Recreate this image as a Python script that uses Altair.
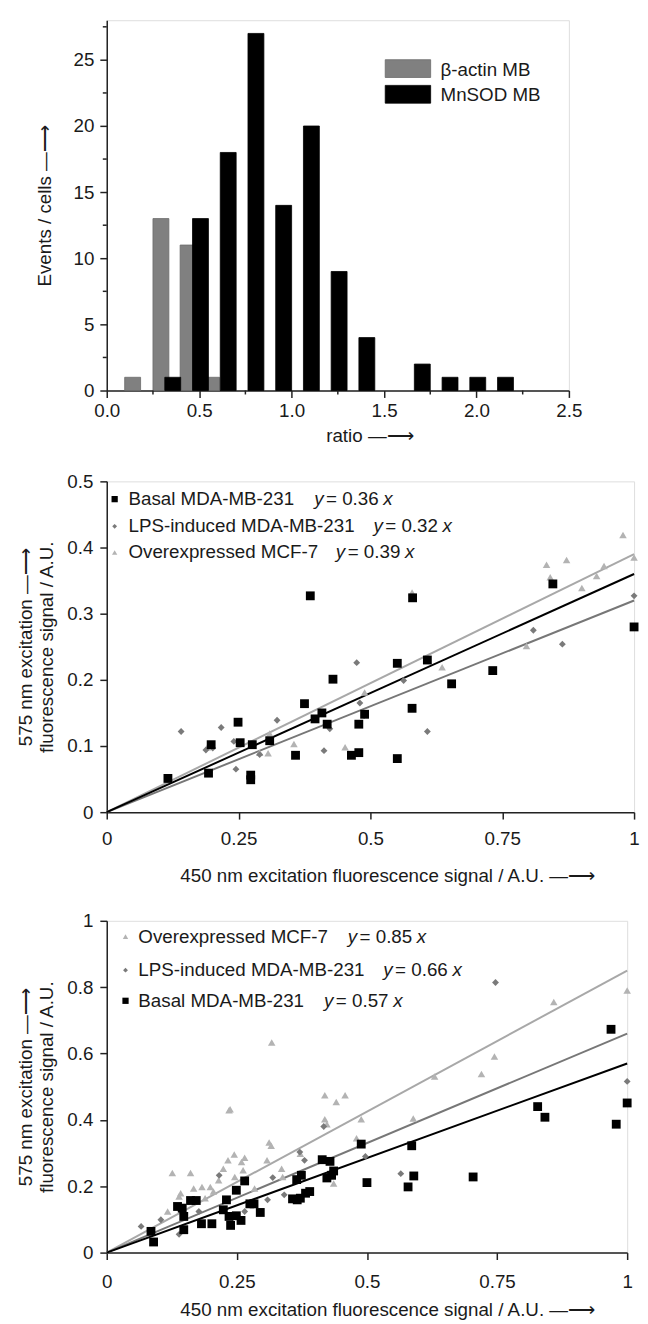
import altair as alt
import pandas as pd

FONT = "Liberation Sans"
ARROW = "\u2014\u27f6"
TXT = "#1a1a1a"

# ---------------- Panel 1: histogram data ----------------
hist_series = ["β-actin MB", "MnSOD MB"]
actin_ratio = [0.14, 0.293, 0.44, 0.567]
actin_count = [1, 13, 11, 1]
mnsod_ratio = [0.357, 0.507, 0.657, 0.807, 0.957, 1.107, 1.257, 1.407, 1.707, 1.857, 2.007, 2.157]
mnsod_count = [1, 13, 18, 27, 14, 20, 9, 4, 2, 1, 1, 1]
hist_x_ticks = [0, 0.5, 1.0, 1.5, 2.0, 2.5]
hist_x_minor = [0.25, 0.75, 1.25, 1.75, 2.25]
hist_y_ticks = [0, 5, 10, 15, 20, 25]
hist_y_minor = [2.5, 7.5, 12.5, 17.5, 22.5, 27.5]

# ---------------- Panel 2: scatter data ----------------
p2_names = ["Basal MDA-MB-231", "LPS-induced MDA-MB-231", "Overexpressed MCF-7"]
p2_slopes = [0.36, 0.32, 0.39]
p2_basal_x = [0.116, 0.193, 0.198, 0.249, 0.253, 0.273, 0.273, 0.276, 0.309, 0.358, 0.375, 0.386, 0.395,
              0.408, 0.418, 0.429, 0.464, 0.478, 0.478, 0.489, 0.551, 0.551, 0.579, 0.580, 0.608, 0.654,
              0.732, 0.846, 1.0]
p2_basal_y = [0.051, 0.059, 0.102, 0.136, 0.105, 0.056, 0.049, 0.102, 0.108, 0.086, 0.164, 0.327, 0.141,
              0.150, 0.133, 0.201, 0.086, 0.090, 0.133, 0.148, 0.081, 0.225, 0.157, 0.324, 0.230, 0.194,
              0.214, 0.345, 0.280]
p2_lps_x = [0.141, 0.188, 0.201, 0.217, 0.241, 0.245, 0.290, 0.323, 0.412, 0.423, 0.474, 0.480, 0.488,
            0.563, 0.608, 0.809, 0.864, 1.0]
p2_lps_y = [0.122, 0.094, 0.097, 0.128, 0.107, 0.065, 0.087, 0.139, 0.093, 0.126, 0.226, 0.165, 0.146,
            0.199, 0.122, 0.275, 0.254, 0.327]
p2_mcf_x = [0.191, 0.290, 0.306, 0.309, 0.355, 0.452, 0.489, 0.579, 0.636, 0.796, 0.834, 0.841, 0.872,
            0.901, 0.929, 0.943, 0.979, 1.0]
p2_mcf_y = [0.098, 0.090, 0.089, 0.119, 0.103, 0.098, 0.181, 0.332, 0.219, 0.251, 0.374, 0.355, 0.381,
            0.339, 0.357, 0.372, 0.419, 0.385]
p2_x_ticks = [0, 0.25, 0.5, 0.75, 1]
p2_y_ticks = [0, 0.1, 0.2, 0.3, 0.4, 0.5]

# ---------------- Panel 3: scatter data ----------------
p3_names = ["Overexpressed MCF-7", "LPS-induced MDA-MB-231", "Basal MDA-MB-231"]
p3_slopes = [0.85, 0.66, 0.57]
p3_basal_x = [0.090, 0.085, 0.136, 0.145, 0.148, 0.148, 0.161, 0.172, 0.182, 0.202, 0.224, 0.230, 0.235,
              0.238, 0.249, 0.249, 0.258, 0.265, 0.275, 0.283, 0.295, 0.357, 0.366, 0.372, 0.365, 0.374,
              0.382, 0.390, 0.414, 0.423, 0.429, 0.432, 0.436, 0.489, 0.500, 0.579, 0.586, 0.590, 0.704,
              0.828, 0.842, 0.969, 0.979, 1.0]
p3_basal_y = [0.032, 0.064, 0.139, 0.134, 0.109, 0.069, 0.157, 0.157, 0.087, 0.087, 0.129, 0.159, 0.109,
              0.082, 0.188, 0.111, 0.097, 0.216, 0.147, 0.147, 0.121, 0.162, 0.159, 0.164, 0.220, 0.233,
              0.179, 0.184, 0.280, 0.225, 0.275, 0.233, 0.246, 0.327, 0.211, 0.198, 0.322, 0.231, 0.228,
              0.440, 0.408, 0.673, 0.387, 0.451]
p3_lps_x = [0.066, 0.104, 0.139, 0.177, 0.216, 0.265, 0.309, 0.319, 0.341, 0.371, 0.380, 0.417, 0.428,
            0.497, 0.565, 0.747, 1.0]
p3_lps_y = [0.079, 0.099, 0.055, 0.124, 0.233, 0.124, 0.159, 0.226, 0.174, 0.303, 0.278, 0.380, 0.278,
            0.290, 0.238, 0.814, 0.516]
p3_mcf_x = [0.117, 0.126, 0.139, 0.142, 0.161, 0.167, 0.183, 0.189, 0.199, 0.205, 0.215, 0.224, 0.233,
            0.235, 0.237, 0.245, 0.246, 0.259, 0.262, 0.265, 0.284, 0.308, 0.312, 0.316, 0.317, 0.336,
            0.338, 0.372, 0.419, 0.419, 0.423, 0.436, 0.441, 0.458, 0.480, 0.489, 0.589, 0.630, 0.720,
            0.745, 0.859, 1.0]
p3_mcf_y = [0.124, 0.240, 0.169, 0.179, 0.240, 0.193, 0.198, 0.164, 0.198, 0.184, 0.218, 0.253, 0.278,
            0.429, 0.432, 0.296, 0.228, 0.273, 0.248, 0.286, 0.193, 0.278, 0.332, 0.322, 0.633, 0.253,
            0.228, 0.298, 0.474, 0.402, 0.387, 0.208, 0.454, 0.474, 0.345, 0.402, 0.404, 0.531, 0.538,
            0.591, 0.755, 0.790]
p3_x_ticks = [0, 0.25, 0.5, 0.75, 1]
p3_y_ticks = [0, 0.2, 0.4, 0.6, 0.8, 1]

# ---------------- style ----------------
COL_BASAL, COL_LPS, COL_MCF = "#000000", "#7a7a7a", "#b3b3b3"
LINE_BASAL, LINE_LPS, LINE_MCF = "#000000", "#777777", "#a8a8a8"
LAB_FS, TITLE_FS, LEG_FS = 19, 19, 19


def ax(**kw):
    base = dict(labelFont=FONT, labelFontSize=LAB_FS, labelColor=TXT, titleFont=FONT, titleFontSize=TITLE_FS,
                titleFontWeight="normal", titleColor=TXT, domainColor="#222222", domainWidth=1.5,
                tickColor="#222222", tickWidth=1.5, tickSize=7, grid=False, labelOverlap=False,
                labelFlush=False)
    base.update(kw)
    return alt.Axis(**base)


# ================= Panel 1 =================
W1, H1 = 468, 375
hist_df = pd.DataFrame({
    "series": [hist_series[0]] * len(actin_ratio) + [hist_series[1]] * len(mnsod_ratio),
    "ratio": actin_ratio + mnsod_ratio,
    "count": actin_count + mnsod_count,
})
xs1 = alt.Scale(domain=[0, 2.5], nice=False, zero=False)
ys1 = alt.Scale(domain=[0, 28], nice=False)
xax1 = ax(values=hist_x_ticks, format=".1f", title="ratio " + ARROW, labelPadding=4,
          titlePadding=7, titleX=266, titleAlign="center")
yax1 = ax(values=hist_y_ticks, title="Events / cells " + ARROW, labelPadding=6, titlePadding=19)

bars = alt.Chart(hist_df).transform_calculate(
    left="datum.ratio - 0.043", right="datum.ratio + 0.043", base="0"
).mark_rect(strokeWidth=0.8).encode(
    x=alt.X("left:Q", scale=xs1, axis=xax1),
    x2="right:Q",
    y=alt.Y("count:Q", scale=ys1, axis=yax1),
    y2="base:Q",
    fill=alt.Fill("series:N", scale=alt.Scale(domain=hist_series, range=["#808080", "#000000"]), legend=None),
    stroke=alt.Stroke("series:N", scale=alt.Scale(domain=hist_series, range=["#6a6a6a", "#000000"]), legend=None),
)
minor_x = alt.Chart(pd.DataFrame({"v": hist_x_minor})).mark_rule(color="#222222", strokeWidth=1.5).encode(
    x=alt.X("v:Q", scale=xs1, axis=xax1), y=alt.value(H1), y2=alt.value(H1 + 4))
minor_y = alt.Chart(pd.DataFrame({"v": hist_y_minor})).mark_rule(color="#222222", strokeWidth=1.5).encode(
    y=alt.Y("v:Q", scale=ys1, axis=yax1), x=alt.value(-4), x2=alt.value(0))

hist_leg = []
for i, (name, fillc, strokec) in enumerate(zip(hist_series, ["#808080", "#000000"], ["#6a6a6a", "#000000"])):
    d = alt.Chart(pd.DataFrame({"name": [name]}))
    hist_leg.append(d.mark_rect(fill=fillc, stroke=strokec, strokeWidth=0.8).encode(
        x=alt.value(282), x2=alt.value(328), y=alt.value(40 + 26 * i), y2=alt.value(58 + 26 * i)))
    hist_leg.append(d.mark_text(align="left", baseline="middle", font=FONT, fontSize=LEG_FS, color=TXT).encode(
        x=alt.value(338), y=alt.value(50 + 25.5 * i), text="name:N"))

panel1 = alt.layer(bars, minor_x, minor_y, *hist_leg).properties(width=W1, height=H1)


# ================= scatter helper =================
def scatter_panel(W, H, ydom, xticks, yticks, names, slopes, series_pts, legend_cfg, label_pad, title_pad):
    xs = alt.Scale(domain=[0, 1], nice=False, zero=False)
    ys = alt.Scale(domain=ydom, nice=False, zero=False)
    xax = ax(values=xticks, labelExpr="toString(datum.value)",
             title="450 nm excitation fluorescence signal / A.U. " + ARROW,
             labelPadding=label_pad, titlePadding=title_pad, titleX=284, titleAlign="center")
    yax = ax(values=yticks, labelExpr="toString(datum.value)",
             title=["575 nm excitation " + ARROW, "fluorescence signal / A.U."],
             labelPadding=7, titlePadding=11, titleLineHeight=21)
    style = {
        "Basal MDA-MB-231": ("square", COL_BASAL, 80, LINE_BASAL),
        "LPS-induced MDA-MB-231": ("diamond", COL_LPS, 48, LINE_LPS),
        "Overexpressed MCF-7": ("triangle-up", COL_MCF, 58, LINE_MCF),
    }
    order = ["Overexpressed MCF-7", "LPS-induced MDA-MB-231", "Basal MDA-MB-231"]
    line_rows = []
    for n, s in zip(names, slopes):
        line_rows += [{"series": n, "x": 0.0, "y": 0.0}, {"series": n, "x": 1.0, "y": s}]
    ldf = pd.DataFrame(line_rows)
    layers = []
    for n in order:
        sub = ldf[ldf.series == n]
        layers.append(alt.Chart(sub).mark_line(color=style[n][3], strokeWidth=2).encode(
            x=alt.X("x:Q", scale=xs, axis=xax), y=alt.Y("y:Q", scale=ys, axis=yax)))
    for n in order:
        px, py = series_pts[n]
        shp, col, size, _ = style[n]
        layers.append(alt.Chart(pd.DataFrame({"x": px, "y": py})).mark_point(
            shape=shp, filled=True, color=col, size=size, opacity=1).encode(
            x=alt.X("x:Q", scale=xs, axis=xax), y=alt.Y("y:Q", scale=ys, axis=yax)))
    sym_x, text_x, eq_x, row_y = legend_cfg
    for i, n in enumerate(names):
        shp, col, size, _ = style[n]
        d = alt.Chart(pd.DataFrame({"name": [n], "eq": [f"= {slopes[i]:.2f}"]}))
        tkw = dict(align="left", baseline="middle", font=FONT, fontSize=LEG_FS, color=TXT)
        layers.append(d.mark_point(shape=shp, filled=True, color=col, size=size * 0.5, opacity=1).encode(
            x=alt.value(sym_x), y=alt.value(row_y[i])))
        layers.append(d.mark_text(**tkw).encode(x=alt.value(text_x), y=alt.value(row_y[i]), text="name:N"))
        layers.append(d.mark_text(fontStyle="italic", **tkw).encode(
            x=alt.value(eq_x[i]), y=alt.value(row_y[i]), text=alt.value("y")))
        layers.append(d.mark_text(**tkw).encode(
            x=alt.value(eq_x[i] + 12), y=alt.value(row_y[i]), text="eq:N"))
        layers.append(d.mark_text(fontStyle="italic", **tkw).encode(
            x=alt.value(eq_x[i] + 70), y=alt.value(row_y[i]), text=alt.value("x")))
    return alt.layer(*layers).properties(width=W, height=H)


panel2 = scatter_panel(
    534, 335, [0, 0.5], p2_x_ticks, p2_y_ticks, p2_names, p2_slopes,
    {"Basal MDA-MB-231": (p2_basal_x, p2_basal_y),
     "LPS-induced MDA-MB-231": (p2_lps_x, p2_lps_y),
     "Overexpressed MCF-7": (p2_mcf_x, p2_mcf_y)},
    (8, 22, [210, 270, 232], [18, 45.5, 72]), 11, 18)

panel3 = scatter_panel(
    527, 336, [0, 1], p3_x_ticks, p3_y_ticks, p3_names, p3_slopes,
    {"Basal MDA-MB-231": (p3_basal_x, p3_basal_y),
     "LPS-induced MDA-MB-231": (p3_lps_x, p3_lps_y),
     "Overexpressed MCF-7": (p3_mcf_x, p3_mcf_y)},
    (19, 32, [244, 280, 220], [16, 50, 81]), 13, 10)

chart = alt.vconcat(panel1, panel2, panel3, spacing=25).properties(
    padding={"left": 8, "top": 3, "right": 0, "bottom": 0}
).configure_view(strokeWidth=0).configure(background="white")

chart.save("out.html", embed_options={"renderer": "svg", "actions": False})
